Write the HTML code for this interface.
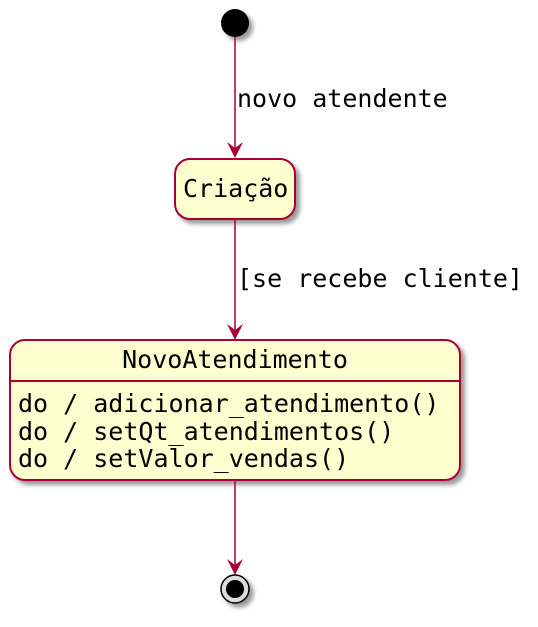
<!DOCTYPE html>
<html><head><meta charset="utf-8"><style>html,body{margin:0;padding:0;background:#fff}svg{display:block}</style></head>
<body>
<svg width="538" height="627" viewBox="0 0 538 627" xmlns="http://www.w3.org/2000/svg" font-family="'DejaVu Sans Mono','Liberation Mono',monospace">
<defs><filter id="sh" x="-20%" y="-20%" width="150%" height="150%"><feGaussianBlur in="SourceAlpha" stdDeviation="2"/><feOffset dx="4" dy="4"/><feComponentTransfer><feFuncA type="linear" slope="0.4"/></feComponentTransfer><feMerge><feMergeNode/><feMergeNode in="SourceGraphic"/></feMerge></filter></defs>
<circle cx="235" cy="23" r="14" fill="#000" filter="url(#sh)"/>
<line x1="235" y1="37" x2="235" y2="156" stroke="#A80036" stroke-width="1.5"/>
<polygon points="235,158 227,142 235,148 243,142" fill="#A80036"/>
<text x="237" y="107" font-size="25">novo atendente</text>
<rect x="175" y="159" width="120" height="60" rx="15" fill="#FEFECE" stroke="#A80036" stroke-width="2" filter="url(#sh)"/>
<text x="183" y="197" font-size="25">Criação</text>
<line x1="235" y1="219" x2="235" y2="338" stroke="#A80036" stroke-width="1.5"/>
<polygon points="235,340 227,324 235,330 243,324" fill="#A80036"/>
<text x="237" y="287" font-size="25">[se recebe cliente]</text>
<rect x="10" y="340" width="450" height="140" rx="15" fill="#FEFECE" stroke="#A80036" stroke-width="2" filter="url(#sh)"/>
<line x1="10" y1="381" x2="460" y2="381" stroke="#A80036" stroke-width="2"/>
<text x="235" y="368" font-size="25" text-anchor="middle">NovoAtendimento</text>
<text x="18" y="412" font-size="25">do / adicionar_atendimento()</text>
<text x="18" y="440" font-size="25">do / setQt_atendimentos()</text>
<text x="18" y="467" font-size="25">do / setValor_vendas()</text>
<line x1="235" y1="480" x2="235" y2="573" stroke="#A80036" stroke-width="1.5"/>
<polygon points="235,575 227,559 235,565 243,559" fill="#A80036"/>
<circle cx="235" cy="589" r="14" fill="#ddd" stroke="#000" stroke-width="1.5" filter="url(#sh)"/>
<circle cx="235" cy="589" r="9" fill="#000"/>
</svg>
</body></html>
